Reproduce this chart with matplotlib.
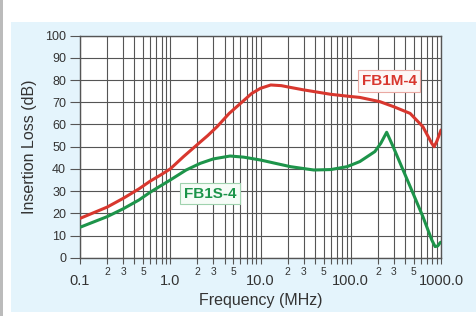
import matplotlib
matplotlib.use('Agg')
import matplotlib.pyplot as plt
from matplotlib.patches import Rectangle
from matplotlib.ticker import LogLocator, FuncFormatter, FixedLocator
import numpy as np

plt.rcParams['font.family'] = ['Liberation Sans', 'DejaVu Sans']

# FB1M-4 curve (MHz, dB)
fb1m_freq = [0.1, 0.2, 0.3, 0.45, 0.6, 0.8, 1.0, 1.4, 2.0, 2.6, 3.3, 4.5, 6.0, 8.0, 10, 13, 17,
             21.5, 30, 60, 100, 126, 210, 300, 455, 630, 790, 840, 900, 1000]
fb1m_loss = [17.7, 22.8, 26.7, 31.0, 34.5, 37.5, 40.0, 45.5, 51.0, 55.0, 59.0, 65.0, 69.5, 74.0, 76.3, 77.8, 77.5,
             76.7, 75.6, 73.6, 72.6, 72.2, 70.3, 68.0, 65.0, 59.0, 51.5, 50.0, 52.5, 57.5]

# FB1S-4 curve (MHz, dB)
fb1s_freq = [0.1, 0.2, 0.3, 0.45, 0.6, 1.0, 1.5, 2.15, 3.0, 4.6, 6.5, 10, 21.5, 39, 60, 91, 126,
             185, 215, 250, 295, 380, 490, 630, 790, 860, 920, 980, 1000]
fb1s_loss = [13.7, 18.5, 22.0, 26.0, 29.5, 35.0, 39.5, 42.5, 44.5, 45.8, 45.3, 44.0, 41.0, 39.5, 39.7, 41.0, 43.3,
             47.8, 51.5, 56.5, 50.0, 39.5, 29.0, 18.5, 8.0, 5.0, 5.3, 6.8, 7.0]

major_ticks = [0.1, 1.0, 10.0, 100.0, 1000.0]
major_labels = ['0.1', '1.0', '10.0', '100.0', '1000.0']
y_ticks = [0, 10, 20, 30, 40, 50, 60, 70, 80, 90, 100]

RED = '#d8372e'
GREEN = '#1d944a'
TXT = '#333333'

fig = plt.figure(figsize=(4.77, 3.16), dpi=100)
fig.patch.set_facecolor('white')
# light blue panel and grey edge strip
fig.add_artist(Rectangle((11 / 477, 4 / 316), 1, 290 / 316, transform=fig.transFigure,
                         facecolor='#e4f4fc', edgecolor='none', zorder=-10))
fig.add_artist(Rectangle((0, 0), 3 / 477, 1, transform=fig.transFigure,
                         facecolor='#bbbbbb', edgecolor='none', zorder=-10))

ax = fig.add_axes([80 / 477, 58.3 / 316, 361 / 477, 222 / 316])
ax.set_facecolor('white')

ax.plot(fb1m_freq, fb1m_loss, color=RED, lw=2.2, solid_capstyle='round', solid_joinstyle='round', zorder=3)
ax.plot(fb1s_freq, fb1s_loss, color=GREEN, lw=2.2, solid_capstyle='round', solid_joinstyle='round', zorder=3)

ax.set_xscale('log')
ax.set_xlim(0.1, 1000)
ax.set_ylim(0, 100)

ax.xaxis.set_major_locator(FixedLocator(major_ticks))
ax.xaxis.set_major_formatter(FuncFormatter(lambda v, p: major_labels[major_ticks.index(v)] if v in major_ticks else ''))
ax.xaxis.set_minor_locator(LogLocator(base=10, subs=np.arange(2, 10)))


def minor_fmt(v, p):
    d = int(round(v / 10 ** np.floor(np.log10(v) + 1e-9)))
    return str(d) if d in (2, 3, 5) else ''


ax.xaxis.set_minor_formatter(FuncFormatter(minor_fmt))
ax.set_yticks(y_ticks)

ax.grid(True, which='major', color='#555555', lw=0.8)
ax.grid(True, which='minor', axis='x', color='#555555', lw=0.8)

ax.tick_params(axis='x', which='major', length=4, width=0.8, color='#555555', pad=7.5,
               labelsize=10.5, labelcolor=TXT)
ax.tick_params(axis='x', which='minor', length=4, width=0.8, color='#555555', pad=3,
               labelsize=7.5, labelcolor=TXT)
ax.tick_params(axis='y', length=7, width=0.8, color='#555555', pad=3,
               labelsize=9, labelcolor=TXT)

for s in ax.spines.values():
    s.set_color('#555555')
    s.set_linewidth(1.0)

ax.set_xlabel('Frequency (MHz)', fontsize=11.5, color=TXT)
ax.set_ylabel('Insertion Loss (dB)', fontsize=11.5, color=TXT)
ax.xaxis.set_label_coords(0.5, -0.195)
ax.xaxis.label.set_va('center')
ax.yaxis.set_label_coords(-0.141, 0.5)
ax.yaxis.label.set_va('center')

ax.text(0.856, 0.796, 'FB1M-4', transform=ax.transAxes, ha='center', va='center',
        fontsize=11, fontweight='bold', color=RED, zorder=5,
        bbox=dict(boxstyle='square,pad=0.25', facecolor='#fdf7f6', edgecolor='#eaa8a2', lw=0.8))
ax.text(0.36, 0.289, 'FB1S-4', transform=ax.transAxes, ha='center', va='center',
        fontsize=11, fontweight='bold', color=GREEN, zorder=5,
        bbox=dict(boxstyle='square,pad=0.25', facecolor='#f6fcf7', edgecolor='#9fd2ae', lw=0.8))

fig.savefig('out.png', dpi=100)
